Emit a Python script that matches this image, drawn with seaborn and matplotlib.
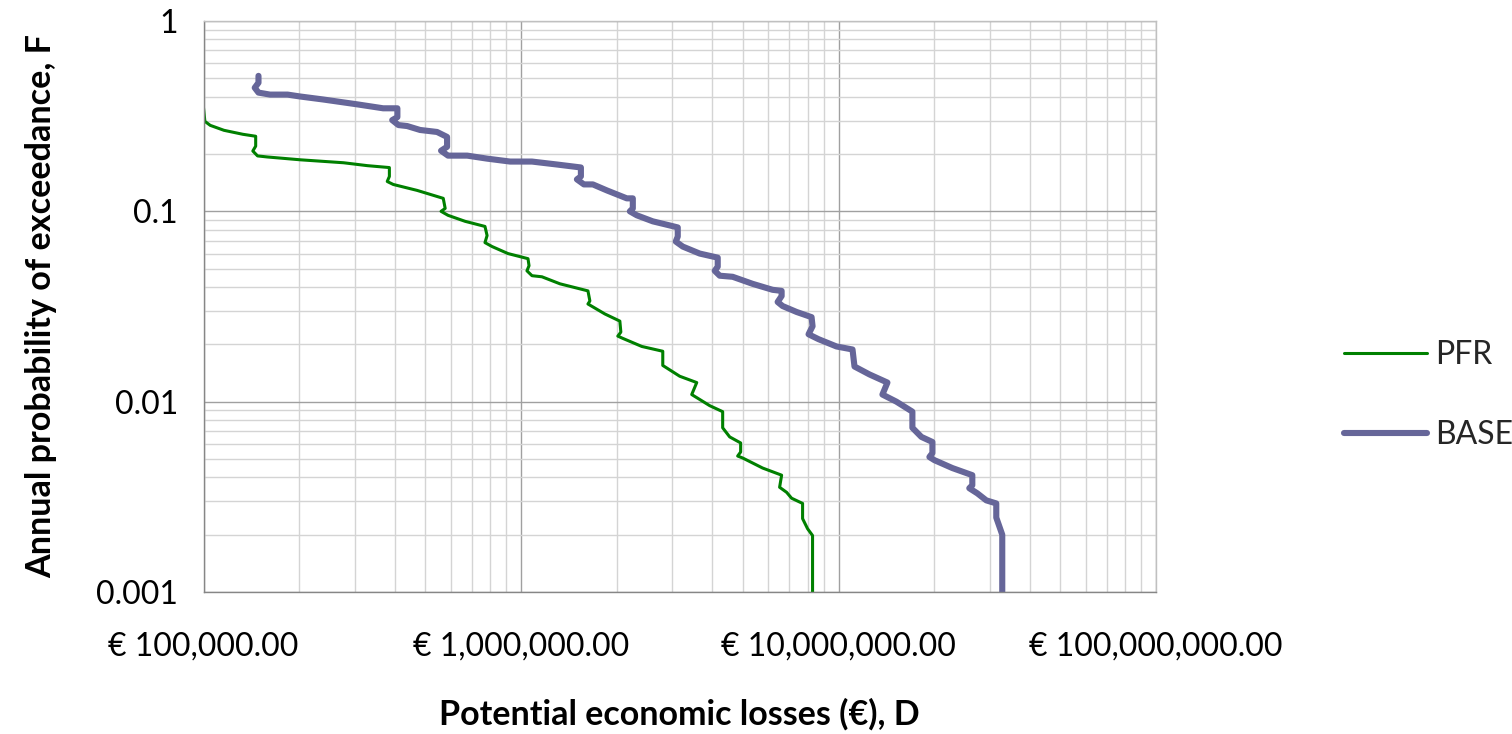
import matplotlib
matplotlib.use("Agg")
import matplotlib.pyplot as plt
import matplotlib.ticker as mticker
import seaborn as sns
import pandas as pd
import numpy as np

# ---- data (losses in EUR, annual exceedance probability) ----
pfr_loss = [1.00e5, 1.01e5, 1.05e5, 1.16e5, 1.33e5, 1.46e5, 1.46e5, 1.43e5, 1.48e5, 1.59e5,
            2.02e5, 2.76e5, 3.28e5, 3.85e5, 3.85e5, 3.79e5, 3.96e5, 4.71e5, 5.69e5, 5.77e5,
            5.60e5, 5.89e5, 6.67e5, 7.70e5, 7.82e5, 7.70e5, 8.11e5, 9.10e5, 1.052e6, 1.060e6,
            1.044e6, 1.083e6, 1.164e6, 1.327e6, 1.625e6, 1.648e6, 1.625e6, 1.837e6, 2.048e6, 2.063e6,
            2.018e6, 2.093e6, 2.402e6, 2.796e6, 2.796e6, 3.162e6, 3.577e6, 3.449e6, 3.577e6, 3.929e6,
            4.317e6, 4.317e6, 4.542e6, 4.918e6, 4.918e6, 4.813e6, 4.990e6, 5.768e6, 6.620e6, 6.524e6,
            6.863e6, 7.116e6, 7.707e6, 7.707e6, 7.991e6, 8.285e6, 8.285e6]
pfr_prob = [0.350, 0.297, 0.2830, 0.2665, 0.2540, 0.2480, 0.2200, 0.2075, 0.1955, 0.1930,
            0.1865, 0.1800, 0.1738, 0.1698, 0.1525, 0.1435, 0.1384, 0.1288, 0.1170, 0.1036,
            0.1000, 0.0953, 0.0886, 0.0833, 0.0746, 0.0685, 0.0653, 0.0600, 0.0564, 0.0518,
            0.0487, 0.0459, 0.0453, 0.0416, 0.0382, 0.0338, 0.0326, 0.0289, 0.0265, 0.0232,
            0.0221, 0.0215, 0.0195, 0.0184, 0.0155, 0.0136, 0.0126, 0.0109, 0.0105, 0.00953,
            0.00886, 0.00729, 0.00653, 0.00607, 0.00544, 0.00518, 0.00506, 0.00448, 0.00411, 0.00355,
            0.00334, 0.00311, 0.00292, 0.00243, 0.00215, 0.00198, 0.00098]

base_loss = [1.49e5, 1.49e5, 1.45e5, 1.49e5, 1.62e5, 1.84e5, 2.02e5, 2.38e5, 3.05e5, 3.68e5,
             4.08e5, 4.08e5, 3.93e5, 4.11e5, 4.38e5, 4.81e5, 5.44e5, 5.85e5, 5.85e5, 5.60e5,
             5.89e5, 6.77e5, 7.82e5, 9.24e5, 1.083e6, 1.298e6, 1.544e6, 1.544e6, 1.500e6, 1.578e6,
             1.684e6, 1.864e6, 2.154e6, 2.250e6, 2.250e6, 2.202e6, 2.316e6, 2.601e6, 2.942e6, 3.117e6,
             3.117e6, 3.072e6, 3.232e6, 3.655e6, 4.165e6, 4.165e6, 4.075e6, 4.226e6, 4.642e6, 5.364e6,
             6.201e6, 6.620e6, 6.620e6, 6.431e6, 6.667e6, 7.379e6, 8.226e6, 8.285e6, 8.047e6, 8.650e6,
             9.856e6, 1.107e7, 1.123e7, 1.252e7, 1.426e7, 1.375e7, 1.522e7, 1.709e7, 1.709e7, 1.824e7,
             1.976e7, 1.976e7, 1.933e7, 2.004e7, 2.283e7, 2.639e7, 2.639e7, 2.582e7, 2.736e7, 2.921e7,
             3.140e7, 3.140e7, 3.279e7, 3.279e7]
base_prob = [0.515, 0.4740, 0.4460, 0.4205, 0.4105, 0.4105, 0.4010, 0.3870, 0.3648, 0.3478,
             0.3478, 0.3125, 0.3015, 0.2840, 0.2806, 0.2676, 0.2612, 0.2460, 0.2183, 0.2082,
             0.1962, 0.1962, 0.1892, 0.1826, 0.1826, 0.1762, 0.1700, 0.1526, 0.1472, 0.1385,
             0.1385, 0.1288, 0.1170, 0.1170, 0.1036, 0.1000, 0.0953, 0.0886, 0.0843, 0.0823,
             0.0737, 0.0694, 0.0653, 0.0600, 0.0571, 0.0512, 0.0487, 0.0459, 0.0453, 0.0416,
             0.0387, 0.0382, 0.0359, 0.0334, 0.0318, 0.0296, 0.0278, 0.0249, 0.0226, 0.0213,
             0.0195, 0.0188, 0.0153, 0.0139, 0.0126, 0.0109, 0.0100, 0.00886, 0.00729, 0.00653,
             0.00614, 0.00537, 0.00512, 0.00493, 0.00448, 0.00411, 0.00364, 0.00351, 0.00330, 0.00303,
             0.00292, 0.00246, 0.00200, 0.00098]

series_names = ["PFR", "BASE"]
series_colors = ["#008000", "#666699"]
series_widths = [2.2, 4.4]

x_ticks = [1e5, 1e6, 1e7, 1e8]
x_tick_labels = ["€ 100,000.00", "€ 1,000,000.00", "€ 10,000,000.00", "€ 100,000,000.00"]
y_ticks = [0.001, 0.01, 0.1, 1]
y_tick_labels = ["0.001", "0.01", "0.1", "1"]

x_label = "Potential economic losses (€), D"
y_label = "Annual probability of exceedance, F"

# ---- build table ----
frames = []
for name, xs, ys in [("PFR", pfr_loss, pfr_prob), ("BASE", base_loss, base_prob)]:
    frames.append(pd.DataFrame({"loss": xs, "prob": ys, "series": name,
                                "order": np.arange(len(xs))}))
df = pd.concat(frames, ignore_index=True)

sns.set_theme(style="white")
plt.rcParams["font.family"] = ["Lato", "DejaVu Sans"]

fig = plt.figure(figsize=(15.12, 7.34), dpi=100)
ax = fig.add_axes([203.5 / 1512, 1 - 592 / 734, (1156 - 203.5) / 1512, (592 - 21) / 734])

for name, color, lw in zip(series_names, series_colors, series_widths):
    sub = df[df["series"] == name]
    sns.lineplot(data=sub, x="loss", y="prob", sort=False, estimator=None,
                 color=color, linewidth=lw, ax=ax, label=name)

ax.set_xscale("log")
ax.set_yscale("log")
ax.set_xlim(1e5, 1e8)
ax.set_ylim(1e-3, 1)

ax.xaxis.set_major_locator(mticker.FixedLocator(x_ticks))
ax.xaxis.set_major_formatter(mticker.FixedFormatter(x_tick_labels))
ax.yaxis.set_major_locator(mticker.FixedLocator(y_ticks))
ax.yaxis.set_major_formatter(mticker.FixedFormatter(y_tick_labels))
ax.xaxis.set_minor_locator(mticker.LogLocator(base=10, subs=np.arange(2, 10)))
ax.yaxis.set_minor_locator(mticker.LogLocator(base=10, subs=np.arange(2, 10)))
ax.xaxis.set_minor_formatter(mticker.NullFormatter())
ax.yaxis.set_minor_formatter(mticker.NullFormatter())

ax.grid(which="minor", color="#d4d4d4", linewidth=1.0)
ax.grid(which="major", color="#a0a0a0", linewidth=1.0)
ax.set_axisbelow(True)

for side in ["left", "bottom"]:
    ax.spines[side].set_color("#868686")
    ax.spines[side].set_linewidth(1.0)
for side in ["top", "right"]:
    ax.spines[side].set_color("#c0c0c0")
    ax.spines[side].set_linewidth(1.0)

ax.tick_params(axis="both", which="major", direction="out", length=8.5, width=1.0,
               color="#868686", labelsize=23, labelcolor="black")
ax.tick_params(axis="y", which="major", pad=10)
ax.tick_params(axis="x", which="major", pad=20)
ax.tick_params(axis="both", which="minor", length=0)

ax.set_xlabel(x_label, fontsize=24.5, fontweight="bold", labelpad=26, color="black")
ax.set_ylabel(y_label, fontsize=24.6, fontweight="bold", labelpad=28, color="black")

ax.legend_.remove()
handles, labels = ax.get_legend_handles_labels()
fig.legend(handles, labels, loc="center left", bbox_to_anchor=(1344 / 1512, 1 - 395 / 734),
           frameon=False, fontsize=23, handlelength=2.6, handletextpad=0.25,
           labelspacing=1.55, borderpad=0, borderaxespad=0)

fig.savefig("out.png", dpi=100)
